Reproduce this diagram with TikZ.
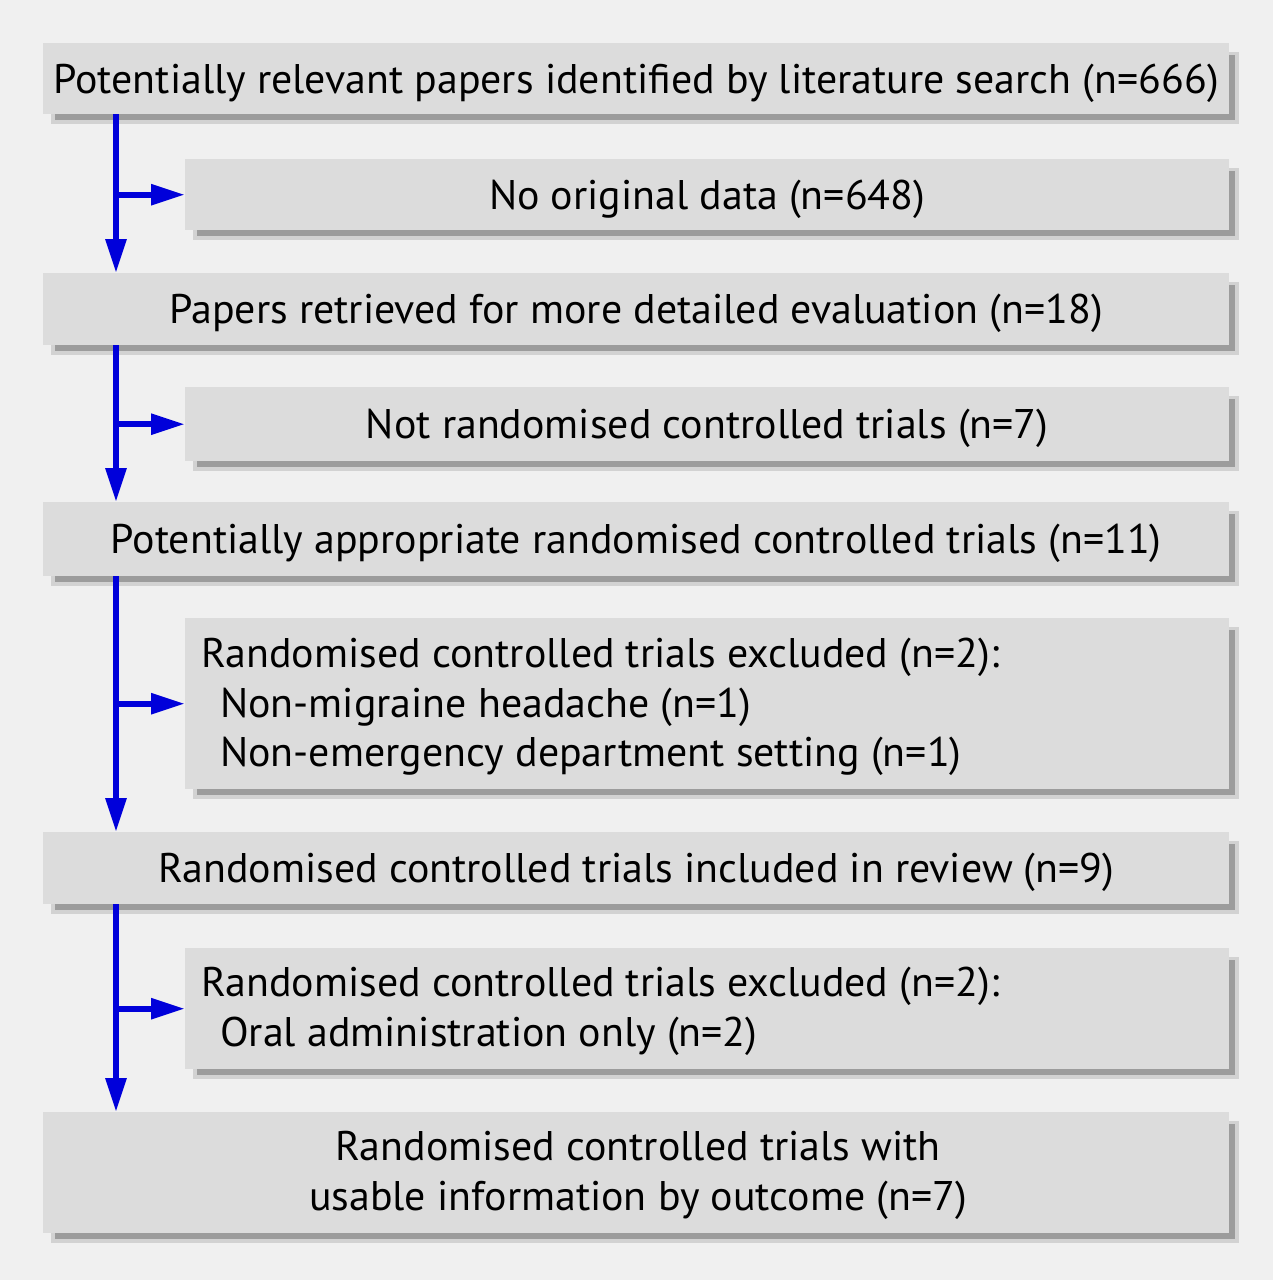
\documentclass[tikz,border=0pt]{standalone}
\usepackage{fontspec}
\setmainfont[FakeStretch=1.012]{PT Sans}
\usetikzlibrary{arrows.meta,backgrounds}
\definecolor{pagebg}{HTML}{F0F0F0}
\definecolor{boxfill}{HTML}{DCDCDC}
\definecolor{shadowlight}{HTML}{D2D2D2}
\definecolor{shadowdark}{HTML}{9C9C9C}
\definecolor{flowblue}{RGB}{0,0,218}
\tikzset{
  flowbox/.style={rectangle, fill=boxfill, inner sep=0pt, anchor=north west,
    font=\fontsize{41.4}{50}\selectfont, text height=29pt, text depth=0pt},
  lbl/.style={inner sep=0pt, font=\fontsize{41.4}{50}\selectfont},
  flow/.style={draw=flowblue, line width=6pt, -{Triangle[length=34pt,width=20pt]}},
}
\newcommand{\boxshadow}[1]{%
  \fill[shadowlight] ([shift={(8,9)}]#1.north west) rectangle ([shift={(10,10)}]#1.south east);
  \fill[shadowdark] ([shift={(12,12)}]#1.north west) rectangle ([shift={(6,6)}]#1.south east);
}
\begin{document}
\begin{tikzpicture}[x=1pt,y=-1pt]
\useasboundingbox (0,0) rectangle (1273,1280);
\coordinate (spine) at (116,0);
% boxes
\node[flowbox, minimum width=1186pt, minimum height=71pt] (b1) at (43,43)
  {Potentially relevant papers identified by literature search (n=666)};
\node[flowbox, minimum width=1044pt, minimum height=71pt] (b2) at (185,159)
  {No original data (n=648)};
\node[flowbox, minimum width=1186pt, minimum height=72pt] (b3) at (43,273)
  {Papers retrieved for more detailed evaluation (n=18)};
\node[flowbox, minimum width=1044pt, minimum height=74pt] (b4) at (185,387)
  {Not randomised controlled trials (n=7)};
\node[flowbox, minimum width=1186pt, minimum height=74pt] (b5) at (43,502)
  {Potentially appropriate randomised controlled trials (n=11)};
\node[flowbox, minimum width=1044pt, minimum height=171pt] (b6) at (185,618) {};
\node[flowbox, minimum width=1186pt, minimum height=72pt] (b7) at (43,832)
  {Randomised controlled trials included in review (n=9)};
\node[flowbox, minimum width=1044pt, minimum height=121pt] (b8) at (185,948) {};
\node[flowbox, minimum width=1186pt, minimum height=121pt] (b9) at (43,1112) {};
% multi-line texts
\node[lbl, anchor=base west] (b6a) at (201,667) {Randomised controlled trials excluded (n=2):};
\node[lbl, anchor=base west] (b6b) at (220,717) {Non-migraine headache (n=1)};
\node[lbl, anchor=base west] (b6c) at (220,766) {Non-emergency department setting (n=1)};
\node[lbl, anchor=base west] (b8a) at (201,996) {Randomised controlled trials excluded (n=2):};
\node[lbl, anchor=base west] (b8b) at (220,1046) {Oral administration only (n=2)};
\node[lbl, anchor=base] (b9a) at (638,1160) {Randomised controlled trials with};
\node[lbl, anchor=base] (b9b) at (638,1210) {usable information by outcome (n=7)};
% connectors
\draw[flow] (b1.south -| spine) -- (b3.north -| spine);
\draw[flow] (b2.west -| spine) -- (b2.west);
\draw[flow] (b3.south -| spine) -- (b5.north -| spine);
\draw[flow] (b4.west -| spine) -- (b4.west);
\draw[flow] (b5.south -| spine) -- (b7.north -| spine);
\draw[flow] (b6.west -| spine) -- (b6.west);
\draw[flow] (b7.south -| spine) -- (b9.north -| spine);
\draw[flow] (b8.west -| spine) -- (b8.west);
% background and shadows
\begin{scope}[on background layer]
  \fill[pagebg] (0,0) rectangle (1273,1280);
  \boxshadow{b1}\boxshadow{b2}\boxshadow{b3}\boxshadow{b4}\boxshadow{b5}
  \boxshadow{b6}\boxshadow{b7}\boxshadow{b8}\boxshadow{b9}
\end{scope}
\end{tikzpicture}
\end{document}
